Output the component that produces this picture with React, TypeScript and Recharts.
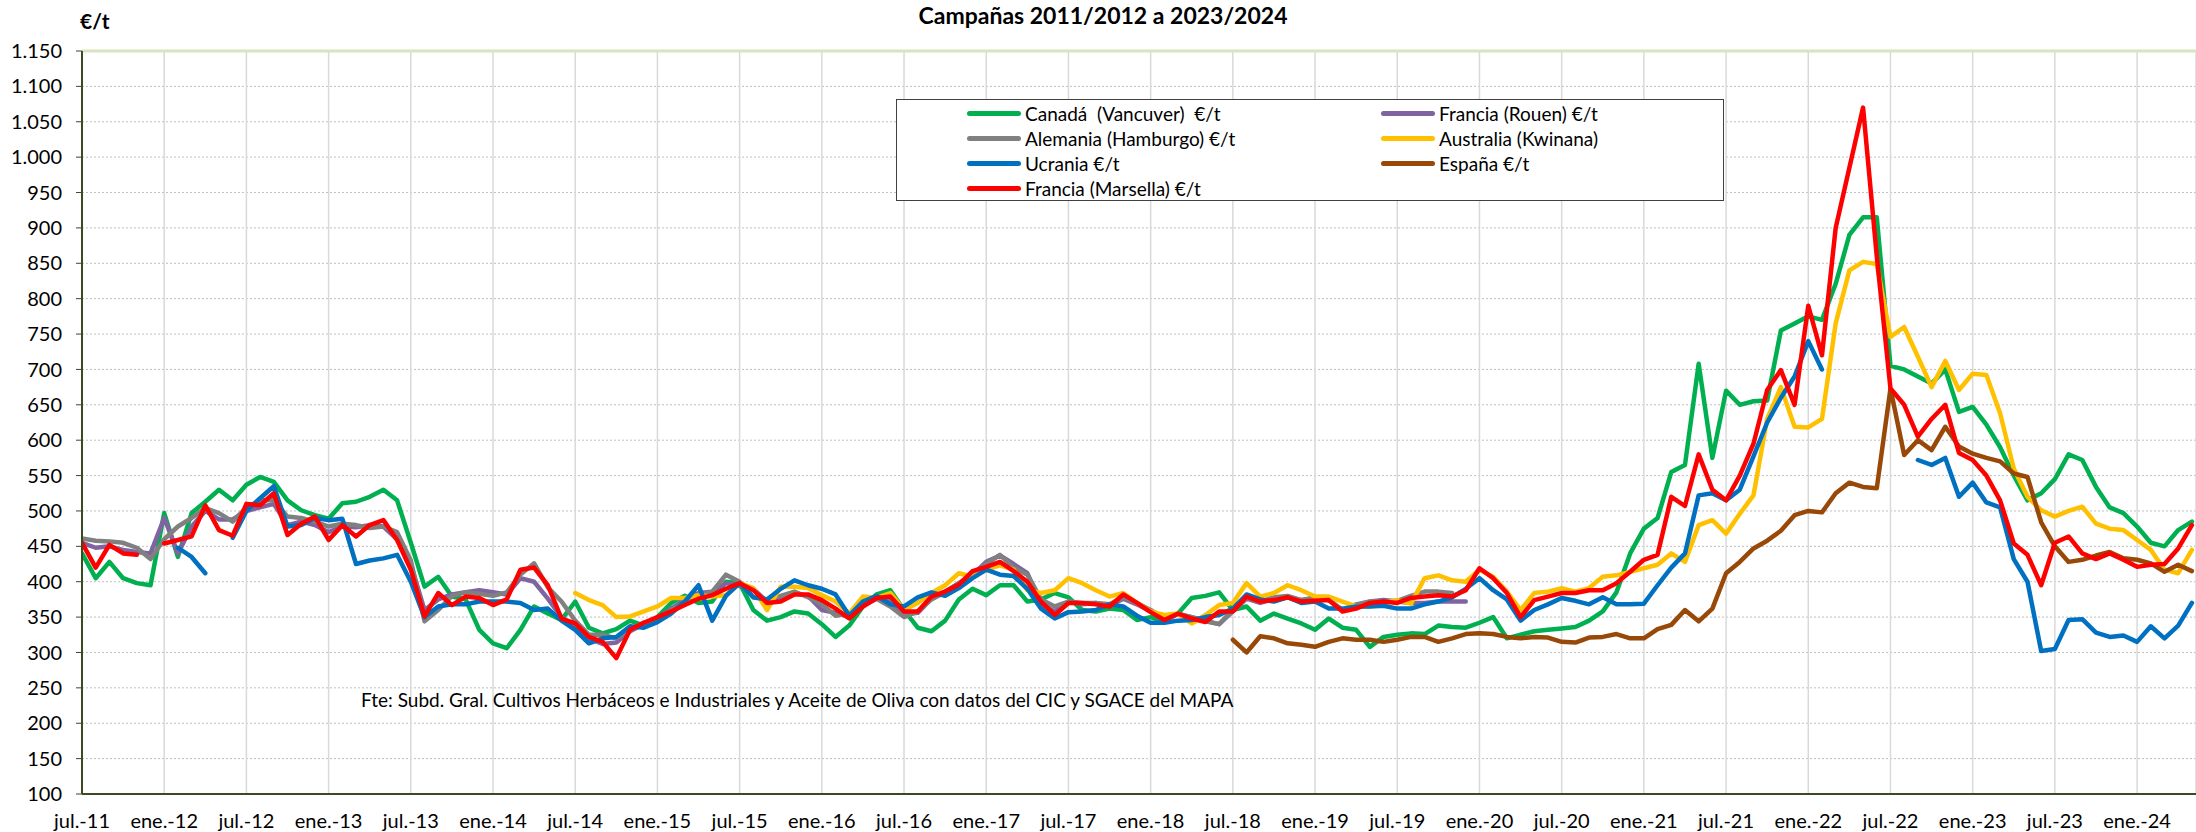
import { LineChart, Line, XAxis, YAxis, CartesianGrid, Legend, ReferenceLine } from 'recharts';

// mes 0 = jul.-11, un valor por mes hasta may.-24
const N_MESES = 155;

const etiquetasX = [
  'jul.-11', 'ene.-12', 'jul.-12', 'ene.-13', 'jul.-13', 'ene.-14', 'jul.-14', 'ene.-15', 'jul.-15',
  'ene.-16', 'jul.-16', 'ene.-17', 'jul.-17', 'ene.-18', 'jul.-18', 'ene.-19', 'jul.-19', 'ene.-20',
  'jul.-20', 'ene.-21', 'jul.-21', 'ene.-22', 'jul.-22', 'ene.-23', 'jul.-23', 'ene.-24',
];
const ticksX = [0, 6, 12, 18, 24, 30, 36, 42, 48, 54, 60, 66, 72, 78, 84, 90, 96, 102, 108, 114, 120, 126, 132, 138, 144, 150];
const ticksY = [100, 150, 200, 250, 300, 350, 400, 450, 500, 550, 600, 650, 700, 750, 800, 850, 900, 950, 1000, 1050, 1100, 1150];

const _ = null;

// €/t, filas = campañas (jul..jun)
const canada = [
  440, 405, 428, 405, 398, 395, 497, 435, 497, 513, 530, 515,
  537, 548, 541, 515, 501, 494, 489, 511, 513, 520, 530, 515,
  455, 393, 407, 379, 375, 332, 313, 306, 332, 365, 355, 346,
  372, 335, 327, 333, 345, 338, 350, 370, 380, 370, 372, 400,
  398, 360, 345, 350, 358, 355, 340, 322, 338, 365, 382, 388,
  360, 335, 330, 345, 375, 390, 381, 395, 395, 372, 375, 384,
  378, 360, 358, 362, 360, 346, 350, 344, 355, 377, 380, 385,
  360, 365, 345, 355, 348, 341, 332, 348, 335, 332, 308, 322,
  325, 327, 326, 338, 336, 335, 342, 350, 320, 325, 330, 332,
  334, 336, 345, 358, 385, 440, 475, 490, 555, 565, 708, 575,
  670, 650, 655, 656, 755, 765, 775, 770, 821, 890, 915, 915,
  705, 700, 690, 680, 700, 640, 647, 622, 590, 550, 515, 525,
  545, 580, 572, 534, 505, 497, 478, 455, 450, 473, 485,
];

const rouen = [
  455, 448, 450, 445, 442, 440, 490, 440, 478, 500, 488, 488,
  500, 505, 510, 480, 485, 480, 470, 478, 477, 480, 478, 460,
  425, 360, 375, 382, 385, 388, 385, 382, 405, 400, 376, 350,
  335, 320, 312, 314, 330, 340, 348, 362, 374, 384, 386, 398,
  394, 390, 372, 374, 384, 380, 360, 356, 350, 366, 376, 372,
  354, 356, 376, 386, 398, 410, 428, 437, 425, 412, 368, 358,
  372, 368, 370, 366, 376, 368, 358, 346, 354, 350, 344, 340,
  358, 376, 370, 376, 378, 374, 376, 374, 360, 366, 372, 374,
  372, 370, 370, 372, 372, 372, _, _, _, _, _, _,
  _, _, _, _, _, _, _, _, _, _, _, _,
  _, _, _, _, _, _, _, _, _, _, _, _,
  _, _, _, _, _, _, _, _, _, _, _, _,
  _, _, _, _, _, _, _, _, _, _, _,
];

const alemania = [
  461, 458, 457, 455, 448, 432, 460, 478, 490, 504, 497, 485,
  505, 515, 515, 492, 490, 485, 478, 482, 480, 476, 478, 470,
  430, 344, 360, 380, 385, 383, 380, 385, 410, 426, 392, 372,
  345, 325, 325, 320, 333, 342, 346, 360, 370, 380, 386, 410,
  400, 378, 375, 380, 386, 378, 368, 352, 355, 370, 376, 365,
  350, 358, 375, 385, 398, 408, 425, 438, 420, 410, 375, 365,
  372, 370, 370, 368, 378, 370, 360, 348, 355, 350, 345, 340,
  360, 378, 372, 378, 380, 374, 378, 375, 360, 368, 372, 372,
  373, 380, 386, 386, 384, _, _, _, _, _, _, _,
  _, _, _, _, _, _, _, _, _, _, _, _,
  _, _, _, _, _, _, _, _, _, _, _, _,
  _, _, _, _, _, _, _, _, _, _, _, _,
  _, _, _, _, _, _, _, _, _, _, _,
];

const australia = [
  _, _, _, _, _, _, _, _, _, _, _, _,
  _, _, _, _, _, _, _, _, _, _, _, _,
  _, _, _, _, _, _, _, _, _, _, _, _,
  384, 374, 367, 350, 351, 358, 365, 377, 377, 381, 379, 381,
  398, 391, 360, 393, 393, 391, 381, 372, 355, 379, 377, 384,
  360, 370, 384, 395, 412, 407, 417, 423, 417, 388, 384, 388,
  405, 398, 388, 379, 384, 370, 358, 353, 355, 341, 353, 367,
  370, 398, 379, 384, 395, 388, 379, 379, 372, 365, 365, 370,
  374, 369, 405, 409, 402, 400, 417, 407, 386, 360, 384, 386,
  391, 386, 391, 407, 409, 414, 419, 424, 440, 428, 480, 487,
  468, 496, 522, 630, 675, 619, 618, 630, 765, 840, 852, 849,
  746, 760, 718, 675, 712, 671, 694, 692, 638, 560, 520, 501,
  492, 500, 506, 482, 475, 473, 459, 445, 417, 412, 445,
];

const ucrania = [
  _, _, _, _, _, _, _, 448, 435, 412, _, 462,
  500, 518, 535, 478, 480, 490, 487, 489, 425, 430, 433, 438,
  400, 350, 365, 368, 368, 372, 372, 372, 370, 360, 362, 345,
  332, 313, 320, 322, 337, 335, 343, 355, 372, 395, 345, 380,
  398, 378, 375, 390, 402, 395, 390, 382, 352, 372, 380, 368,
  365, 378, 385, 380, 391, 405, 417, 410, 408, 390, 362, 348,
  357, 358, 360, 368, 365, 352, 342, 342, 345, 346, 350, 353,
  362, 382, 375, 372, 378, 370, 372, 362, 362, 365, 365, 366,
  362, 362, 368, 372, 378, 390, 405, 388, 375, 345, 360, 368,
  377, 373, 368, 378, 368, 368, 369, 395, 420, 440, 522, 525,
  515, 530, 577, 625, 660, 690, 740, 700, _, _, _, _,
  _, _, 572, 565, 575, 520, 540, 512, 505, 432, 400, 302,
  305, 346, 347, 328, 322, 324, 315, 337, 320, 338, 370,
];

const espana = [
  _, _, _, _, _, _, _, _, _, _, _, _,
  _, _, _, _, _, _, _, _, _, _, _, _,
  _, _, _, _, _, _, _, _, _, _, _, _,
  _, _, _, _, _, _, _, _, _, _, _, _,
  _, _, _, _, _, _, _, _, _, _, _, _,
  _, _, _, _, _, _, _, _, _, _, _, _,
  _, _, _, _, _, _, _, _, _, _, _, _,
  318, 300, 323, 320, 313, 311, 308, 315, 320, 318, 318, 315,
  318, 322, 322, 315, 320, 326, 327, 326, 322, 320, 322, 321,
  315, 314, 321, 322, 326, 320, 320, 333, 339, 360, 344, 362,
  412, 428, 447, 458, 472, 494, 500, 498, 525, 540, 534, 532,
  673, 579, 600, 586, 619, 591, 581, 575, 570, 553, 548, 484,
  450, 428, 431, 437, 442, 433, 431, 426, 414, 424, 415,
];

const marsella = [
  455, 420, 452, 440, 438, _, 454, 459, 464, 508, 473, 465,
  510, 508, 525, 466, 482, 492, 459, 480, 464, 480, 487, 459,
  417, 351, 384, 367, 379, 377, 367, 375, 417, 420, 395, 348,
  341, 322, 315, 292, 332, 342, 350, 358, 367, 376, 381, 390,
  398, 388, 370, 372, 382, 382, 374, 362, 348, 365, 377, 379,
  358, 358, 379, 386, 396, 415, 421, 428, 415, 400, 372, 353,
  370, 370, 368, 365, 382, 370, 357, 346, 355, 348, 343, 358,
  358, 379, 372, 374, 378, 372, 373, 374, 358, 362, 370, 372,
  370, 377, 379, 381, 379, 388, 419, 405, 384, 350, 374, 379,
  384, 384, 388, 388, 398, 414, 431, 438, 520, 507, 580, 530,
  515, 550, 595, 671, 699, 650, 790, 720, 900, 985, 1070, 860,
  673, 650, 605, 630, 650, 582, 572, 550, 515, 454, 438, 395,
  455, 464, 440, 432, 440, 431, 421, 424, 425, 447, 480,
];

const series = [
  { key: 'canada', name: 'Canadá  (Vancuver)  €/t', color: '#00b050', values: canada },
  { key: 'rouen', name: 'Francia (Rouen) €/t', color: '#8064a2', values: rouen },
  { key: 'alemania', name: 'Alemania (Hamburgo) €/t', color: '#808080', values: alemania },
  { key: 'australia', name: 'Australia (Kwinana)', color: '#ffc000', values: australia },
  { key: 'ucrania', name: 'Ucrania €/t', color: '#0070c0', values: ucrania },
  { key: 'espana', name: 'España €/t', color: '#984807', values: espana },
  { key: 'marsella', name: 'Francia (Marsella) €/t', color: '#ff0000', values: marsella },
];

const data = Array.from({ length: N_MESES }, (_v, i) => {
  const row: Record<string, number | null> = { mes: i };
  series.forEach(s => {
    row[s.key] = s.values[i] ?? null;
  });
  return row;
});

const FONT = 'Lato, "Liberation Sans", sans-serif';
const AXIS = '#3b4a22';

const fmtY = (v: number) => (v >= 1000 ? `${Math.floor(v / 1000)}.${String(v % 1000).padStart(3, '0')}` : String(v));

const LegendBox = () => (
  <div style={{ position: 'relative', width: 828, height: 102, border: '1.5px solid #404040', background: '#fff', boxSizing: 'border-box', fontFamily: FONT, fontSize: 19, color: '#000' }}>
    {series.map((s, i) => {
      const col = i % 2;
      const row = Math.floor(i / 2);
      const x = col === 0 ? 70 : 484;
      const y = 13 + row * 25.3;
      return (
        <div key={s.key} style={{ position: 'absolute', left: x, top: y - 12, height: 24, display: 'flex', alignItems: 'center', whiteSpace: 'pre' }}>
          <span style={{ display: 'inline-block', width: 54, height: 5, background: s.color, borderRadius: 3, marginRight: 4 }} />
          <span>{s.name}</span>
        </div>
      );
    })}
  </div>
);

export default function App() {
  return (
    <div style={{ position: 'absolute', left: 0, top: 0, width: 2196, height: 832, background: '#fff', overflow: 'hidden', fontFamily: FONT }}>
      <LineChart width={2196} height={832} data={data} margin={{ top: 51, right: 0, bottom: 0, left: 0 }}>
        <CartesianGrid horizontal vertical={false} stroke="#bfbfbf" strokeDasharray="2 2" />
        <CartesianGrid horizontal={false} vertical stroke="#d9d9d9" strokeWidth={1.5} />
        <XAxis
          dataKey="mes"
          type="number"
          domain={[0, 154.3]}
          ticks={ticksX}
          interval={0}
          allowDataOverflow
          tickFormatter={(v: number) => etiquetasX[Math.round(v / 6)]}
          height={38}
          tickLine={false}
          tickMargin={14}
          axisLine={{ stroke: AXIS, strokeWidth: 2 }}
          tick={{ fill: '#000', fontSize: 20, fontFamily: FONT }}
        />
        <YAxis
          type="number"
          domain={[100, 1150]}
          ticks={ticksY}
          interval={0}
          width={82}
          tickFormatter={fmtY}
          tickSize={6}
          tickMargin={14}
          tickLine={{ stroke: AXIS }}
          axisLine={{ stroke: AXIS, strokeWidth: 2 }}
          tick={{ fill: '#000', fontSize: 20, fontFamily: FONT }}
        />
        <ReferenceLine y={1150} stroke="#d7e4bd" strokeWidth={3} />
        {series.map(s => (
          <Line
            key={s.key}
            dataKey={s.key}
            name={s.name}
            type="linear"
            stroke={s.color}
            strokeWidth={4.5}
            strokeLinejoin="round"
            strokeLinecap="round"
            dot={false}
            activeDot={false}
            connectNulls={false}
            isAnimationActive={false}
          />
        ))}
        <Legend
          layout="horizontal"
          verticalAlign="middle"
          align="center"
          wrapperStyle={{ left: 896, top: 99, width: 828, height: 102 }}
          content={() => <LegendBox />}
        />
      </LineChart>
      <div style={{ position: 'absolute', left: 1103, top: 1, transform: 'translateX(-50%)', fontSize: 23, fontWeight: 700, whiteSpace: 'nowrap' }}>
        Campañas 2011/2012 a 2023/2024
      </div>
      <div style={{ position: 'absolute', left: 80, top: 8, fontSize: 21, fontWeight: 700 }}>€/t</div>
      <div style={{ position: 'absolute', left: 361, top: 688, fontSize: 19, whiteSpace: 'nowrap' }}>
        Fte: Subd. Gral. Cultivos Herbáceos e Industriales y Aceite de Oliva con datos del CIC y SGACE del MAPA
      </div>
    </div>
  );
}
